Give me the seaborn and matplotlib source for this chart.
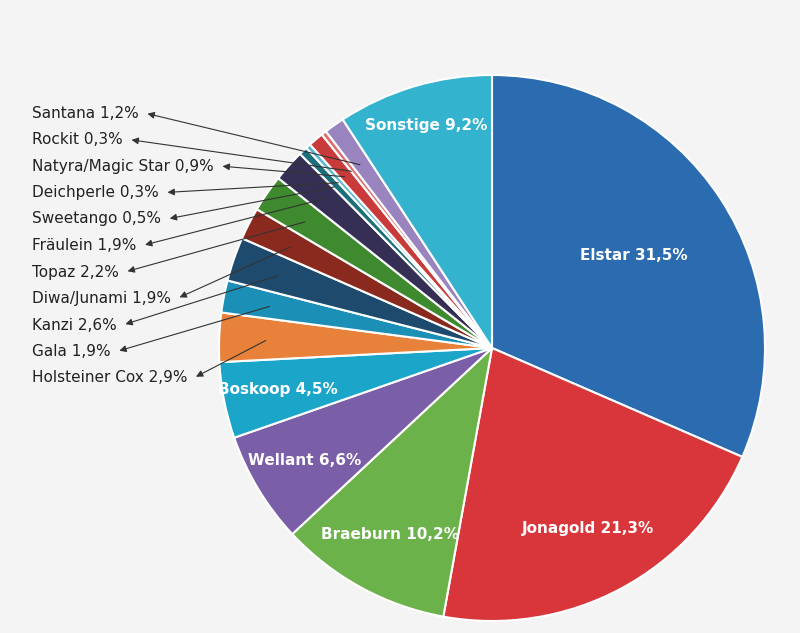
import matplotlib
matplotlib.use("Agg")
import matplotlib.pyplot as plt
import seaborn as sns
import numpy as np

sorten = ["Elstar", "Jonagold", "Braeburn", "Wellant", "Boskoop", "Holsteiner Cox",
          "Gala", "Kanzi", "Diwa/Junami", "Topaz", "Fräulein", "Sweetango",
          "Deichperle", "Natyra/Magic Star", "Rockit", "Santana", "Sonstige"]
anteile = [31.5, 21.3, 10.2, 6.6, 4.5, 2.9, 1.9, 2.6, 1.9, 2.2, 1.9, 0.5,
           0.3, 0.9, 0.3, 1.2, 9.2]
innen = ["Elstar", "Jonagold", "Braeburn", "Wellant", "Boskoop", "Sonstige"]
farben = ["#2b6cb0", "#d8363b", "#6cb24a", "#7a5ea8", "#1ba6c9", "#e8813a",
          "#1b8fb5", "#1e4a6e", "#8a2a1e", "#3f8a2e", "#352f55", "#1a6f7a",
          "#5bb8d0", "#c93a3a", "#e06e6e", "#9a84c0", "#34b3cf"]

sns.set_style("white")
fig = plt.figure(figsize=(8, 6.33), dpi=100)
fig.patch.set_facecolor("#f4f4f4")
ax = fig.add_axes([0, 0, 1, 1])

cx, cy, r = 492, 285, 273
wedges, _ = ax.pie(anteile, colors=farben, startangle=90, counterclock=False,
                   center=(cx, cy), radius=r, frame=True,
                   wedgeprops=dict(edgecolor="white", linewidth=1.5))
ax.set_xlim(0, 800)
ax.set_ylim(0, 633)
ax.set_aspect("equal")
ax.axis("off")

def fmt(v):
    return f"{v:.1f}".replace(".", ",") + "%"

# Beschriftung im Kreis
pos_innen = {"Elstar": 0.62, "Jonagold": 0.75, "Braeburn": 0.78, "Wellant": 0.8,
             "Boskoop": 0.8, "Sonstige": 0.85}
for w, name, v in zip(wedges, sorten, anteile):
    if name in innen:
        ang = np.deg2rad((w.theta1 + w.theta2) / 2)
        f = pos_innen[name]
        ax.text(cx + f * r * np.cos(ang), cy + f * r * np.sin(ang), f"{name} {fmt(v)}",
                color="white", fontsize=11, fontweight="bold", ha="center", va="center")

# Beschriftung links mit Pfeilen
aussen = [s for s in sorten if s not in innen][::-1]
fig.canvas.draw()
renderer = fig.canvas.get_renderer()
for i, name in enumerate(aussen):
    y = 633 - 113 - i * 26.5
    v = anteile[sorten.index(name)]
    t = ax.text(32, y, f"{name} {fmt(v)}", fontsize=11, color="#222222", va="center")
    bb = t.get_window_extent(renderer).transformed(ax.transData.inverted())
    w = wedges[sorten.index(name)]
    ang = np.deg2rad((w.theta1 + w.theta2) / 2)
    start = (cx + 0.82 * r * np.cos(ang), cy + 0.82 * r * np.sin(ang))
    ax.annotate("", xy=(bb.x1 + 6, y), xytext=start,
                arrowprops=dict(arrowstyle="-|>", color="#333333", lw=0.8))

fig.savefig("out.png", dpi=100, facecolor=fig.get_facecolor())
